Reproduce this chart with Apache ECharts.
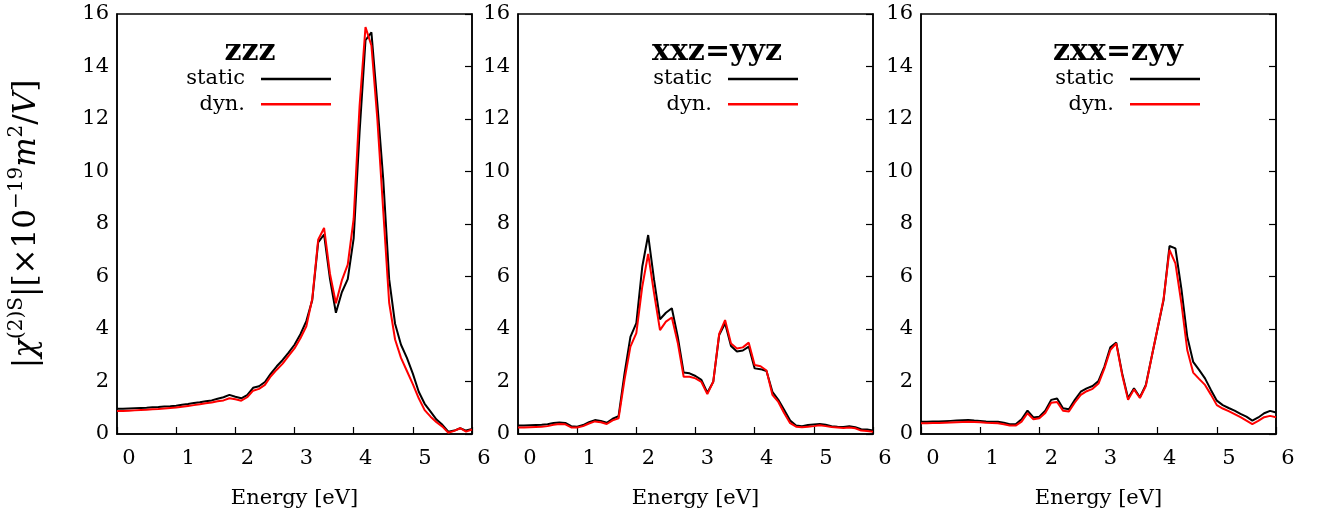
<!DOCTYPE html>
<html>
<head>
<meta charset="utf-8">
<script src="https://cdn.jsdelivr.net/npm/echarts@6/dist/echarts.min.js"></script>
<style>html,body{margin:0;padding:0;background:#fff;}#c{width:1319px;height:521px;}</style>
</head>
<body>
<div id="c"></div>
<script>
// Photon energy grid [eV]
const energy = [0.0,0.1,0.2,0.3,0.4,0.5,0.6,0.7,0.8,0.9,
  1.0,1.1,1.2,1.3,1.4,1.5,1.6,1.7,1.8,1.9,
  2.0,2.1,2.2,2.3,2.4,2.5,2.6,2.7,2.8,2.9,
  3.0,3.1,3.2,3.3,3.4,3.5,3.6,3.7,3.8,3.9,
  4.0,4.1,4.2,4.3,4.4,4.5,4.6,4.7,4.8,4.9,
  5.0,5.1,5.2,5.3,5.4,5.5,5.6,5.7,5.8,5.9,6.0];

const panelTitles = ['zzz', 'xxz=yyz', 'zxx=zyy'];
const seriesNames = ['static', 'dyn.'];
const xTicks = [0, 1, 2, 3, 4, 5, 6];
const yTicks = [0, 2, 4, 6, 8, 10, 12, 14, 16];

// zzz
const zzzStatic = [0.96,0.96,0.97,0.98,0.99,1.00,1.02,1.03,1.05,1.06,
  1.08,1.11,1.14,1.18,1.21,1.25,1.28,1.34,1.40,1.49,
  1.42,1.36,1.48,1.76,1.82,1.98,2.30,2.58,2.82,3.10,
  3.40,3.80,4.30,5.10,7.30,7.60,5.90,4.62,5.40,5.90,
  7.45,11.5,15.0,15.3,12.6,9.7,5.9,4.2,3.4,2.9,
  2.3,1.61,1.15,0.85,0.55,0.35,0.09,0.13,0.22,0.13,0.19];
const zzzDyn = [0.88,0.88,0.89,0.90,0.91,0.92,0.94,0.95,0.97,0.99,
  1.01,1.04,1.07,1.10,1.13,1.17,1.20,1.25,1.28,1.36,
  1.32,1.27,1.40,1.65,1.72,1.87,2.20,2.45,2.68,2.98,
  3.26,3.65,4.10,5.15,7.40,7.85,6.10,4.98,5.85,6.45,
  8.20,12.5,15.5,14.8,12.0,8.5,5.0,3.6,2.9,2.4,
  1.9,1.36,0.91,0.66,0.45,0.28,0.05,0.12,0.22,0.09,0.17];
// xxz = yyz
const xxzStatic = [0.32,0.32,0.33,0.34,0.35,0.37,0.42,0.44,0.42,0.30,
  0.28,0.34,0.45,0.53,0.50,0.43,0.58,0.68,2.30,3.70,
  4.22,6.37,7.58,5.87,4.37,4.62,4.79,3.71,2.34,2.31,
  2.21,2.06,1.57,1.99,3.77,4.22,3.35,3.14,3.18,3.33,
  2.50,2.47,2.40,1.61,1.30,0.91,0.51,0.32,0.30,0.34,
  0.36,0.38,0.35,0.30,0.28,0.27,0.30,0.26,0.18,0.17,0.13];
const xxzDyn = [0.25,0.25,0.26,0.27,0.28,0.30,0.35,0.38,0.37,0.25,
  0.25,0.30,0.40,0.48,0.45,0.38,0.52,0.60,2.06,3.33,
  3.84,5.61,6.86,5.36,3.96,4.28,4.44,3.48,2.18,2.18,
  2.12,1.98,1.52,1.99,3.81,4.34,3.45,3.26,3.30,3.48,
  2.63,2.58,2.42,1.49,1.22,0.79,0.41,0.28,0.26,0.28,
  0.30,0.33,0.30,0.27,0.25,0.23,0.25,0.22,0.13,0.11,0.09];
// zxx = zyy
const zxxStatic = [0.47,0.47,0.48,0.48,0.49,0.50,0.51,0.52,0.53,0.51,
  0.50,0.48,0.47,0.47,0.43,0.37,0.37,0.56,0.89,0.63,
  0.66,0.89,1.30,1.35,0.98,0.94,1.30,1.61,1.74,1.83,
  2.02,2.57,3.30,3.48,2.31,1.36,1.74,1.40,1.87,2.95,
  4.03,5.10,7.16,7.07,5.55,3.71,2.75,2.44,2.12,1.68,
  1.27,1.10,0.99,0.89,0.77,0.66,0.51,0.63,0.79,0.88,0.82];
const zxxDyn = [0.41,0.41,0.42,0.42,0.43,0.44,0.45,0.46,0.47,0.46,
  0.45,0.43,0.42,0.41,0.37,0.32,0.32,0.47,0.79,0.56,
  0.60,0.80,1.19,1.22,0.89,0.86,1.20,1.49,1.63,1.72,
  1.92,2.50,3.20,3.45,2.25,1.30,1.70,1.37,1.83,2.95,
  4.05,5.15,7.01,6.50,5.00,3.20,2.34,2.10,1.87,1.50,
  1.10,0.97,0.87,0.76,0.64,0.51,0.38,0.50,0.64,0.69,0.64];

const panelData = [[zzzStatic, zzzDyn], [xxzStatic, xxzDyn], [zxxStatic, zxxDyn]];

const FONT = 'DejaVu Serif';
const colors = ['#000000', '#ff0000'];
const gridLefts = [117, 518, 921];
const gridW = 355, gridTop = 14, gridH = 420;
const titleCenters = [250, 717, 1118];
const legendRights = [988, 521, 119];

const grids = [], xAxes = [], yAxes = [], series = [], titles = [], legends = [];
gridLefts.forEach((l, i) => {
  grids.push({left: l, top: gridTop, width: gridW, height: gridH, show: true,
    borderColor: '#000', borderWidth: 1.5, backgroundColor: 'transparent', containLabel: false});
  xAxes.push({
    type: 'value', gridIndex: i, min: xTicks[0], max: xTicks[xTicks.length - 1], interval: 1,
    axisLine: {show: true, onZero: false, lineStyle: {color: '#000', width: 1.5}},
    axisTick: {show: true, inside: true, length: 7, lineStyle: {color: '#000', width: 1.2}},
    splitLine: {show: false},
    axisLabel: {show: true, margin: 14, showMinLabel: true, showMaxLabel: true,
      formatter: v => '{a|' + v + '}',
      rich: {a: {fontFamily: FONT, fontSize: 21, color: '#000', padding: [0, 0, 0, 24]}}},
    name: 'Energy [eV]', nameLocation: 'middle', nameGap: 54,
    nameTextStyle: {fontFamily: FONT, fontSize: 21, color: '#000'}
  });
  const yl = {
    type: 'value', gridIndex: i, min: yTicks[0], max: yTicks[yTicks.length - 1], interval: 2,
    position: 'left',
    axisLine: {show: true, onZero: false, lineStyle: {color: '#000', width: 1.5}},
    axisTick: {show: false},
    splitLine: {show: false},
    axisLabel: {show: true, margin: 8, fontFamily: FONT, fontSize: 21, color: '#000'}
  };
  if (i === 0) {
    yl.name = '|{it|χ}{sup|(2)S}|[×10{sup|−19}{it|m}{sup|2}/{it|V}]';
    yl.nameLocation = 'middle';
    yl.nameRotate = 90;
    yl.nameGap = 70;
    yl.nameTextStyle = {fontFamily: FONT, fontSize: 31, lineHeight: 40, color: '#000',
      rich: {
        it: {fontFamily: FONT, fontStyle: 'italic', fontSize: 31, lineHeight: 40, color: '#000'},
        sup: {fontFamily: FONT, fontSize: 20, lineHeight: 22, verticalAlign: 'top', color: '#000'}
      }};
  }
  yAxes.push(yl);
  yAxes.push({
    type: 'value', gridIndex: i, min: yTicks[0], max: yTicks[yTicks.length - 1], interval: 2,
    position: 'right',
    axisLine: {show: true, onZero: false, lineStyle: {color: '#000', width: 1.5}},
    axisTick: {show: true, inside: true, length: 7, lineStyle: {color: '#000', width: 1.2}},
    axisLabel: {show: false}, splitLine: {show: false}
  });
  panelData[i].forEach((vals, k) => {
    series.push({
      type: 'line', name: seriesNames[k], xAxisIndex: i, yAxisIndex: 2 * i,
      data: energy.map((e, j) => [e, vals[j]]),
      symbol: 'none', showSymbol: false, smooth: false, animation: false,
      lineStyle: {color: colors[k], width: 2}, itemStyle: {color: colors[k]},
      z: 2 + k
    });
  });
  titles.push({text: panelTitles[i], left: titleCenters[i], top: 37, textAlign: 'center', padding: 0,
    textStyle: {fontFamily: FONT, fontWeight: 'bold', fontSize: 30, color: '#000'}});
  legends.push({
    data: seriesNames, orient: 'vertical', right: legendRights[i], top: 67, padding: 0,
    align: 'right', icon: 'rect', itemWidth: 70, itemHeight: 2.5, itemGap: 1.3,
    textStyle: {fontFamily: FONT, fontSize: 21, color: '#000', lineHeight: 24, padding: [0, 11, 0, 0]},
    selectedMode: false
  });
});

const chart = echarts.init(document.getElementById('c'), null, {renderer: 'canvas'});
chart.setOption({
  backgroundColor: '#ffffff',
  animation: false,
  title: titles,
  legend: legends,
  grid: grids,
  xAxis: xAxes,
  yAxis: yAxes,
  series: series
});
</script>
</body>
</html>
